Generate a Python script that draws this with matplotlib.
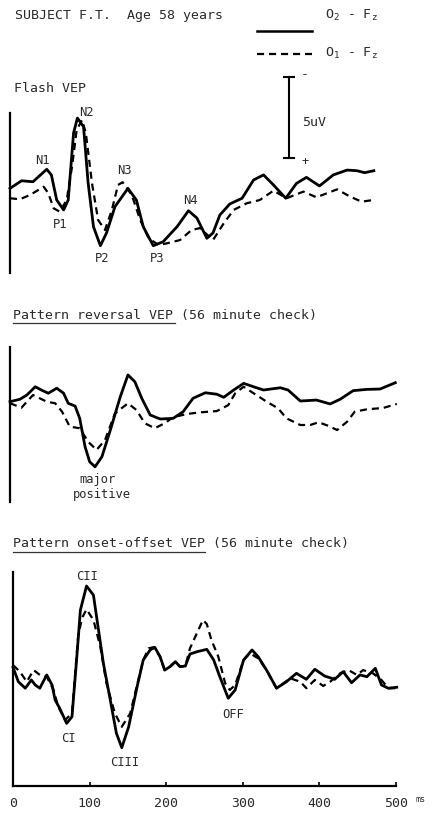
import matplotlib
matplotlib.use("Agg")
import matplotlib.pyplot as plt
from matplotlib.lines import Line2D

# ---------------- data (time in ms, amplitude in uV, negative = up) ----------------
flash_t_o2 = [0, 15, 30, 48, 54, 61, 70, 76, 83, 88, 96, 102, 109, 118, 126, 137, 154, 165, 174, 187,
              200, 218, 233, 244, 257, 265, 274, 287, 303, 318, 331, 344, 360, 374, 387, 404, 422, 440,
              453, 463, 475]
flash_v_o2 = [-0.10, -0.57, -0.51, -1.28, -0.93, 0.62, 1.23, 0.62, -3.52, -4.44, -3.91, -0.43, 2.27, 3.44,
              2.65, 1.03, -0.10, 0.62, 2.27, 3.44, 3.19, 2.27, 1.28, 1.73, 2.98, 2.65, 1.54, 0.86, 0.51,
              -0.62, -0.93, -0.31, 0.51, -0.41, -0.78, -0.25, -0.93, -1.23, -1.19, -1.07, -1.19]
flash_t_o1 = [0, 13, 26, 44, 50, 57, 65, 74, 81, 87, 94, 99, 107, 115, 124, 133, 141, 147, 159, 170,
              181, 194, 205, 222, 237, 248, 265, 279, 292, 309, 326, 344, 361, 383, 400, 427, 444, 459, 474]
flash_v_o1 = [0.51, 0.57, 0.31, -0.20, 0.20, 1.13, 1.34, 0.62, -1.44, -3.70, -4.32, -3.52, -0.43, 1.85,
              2.47, 1.23, -0.31, -0.48, 0.31, 1.85, 2.98, 3.40, 3.29, 3.09, 2.47, 2.35, 3.09, 2.06, 1.23,
              0.82, 0.62, 0.04, 0.51, 0.10, 0.45, -0.04, 0.41, 0.72, 0.62]

rev_t_o2 = [0, 13, 22, 33, 41, 50, 61, 70, 76, 85, 91, 98, 104, 111, 120, 131, 144, 154, 163, 172, 183,
            196, 213, 226, 239, 255, 270, 279, 292, 305, 318, 331, 353, 363, 379, 400, 418, 431, 448, 466,
            483, 503]
rev_v_o2 = [-0.02, -0.17, -0.43, -0.94, -0.74, -0.54, -0.85, -0.54, 0.08, 0.25, 1.01, 2.76, 3.69, 4.00,
            3.38, 1.73, -0.33, -1.67, -1.25, -0.23, 0.80, 1.05, 1.01, 0.60, -0.23, -0.57, -0.48, -0.29,
            -0.74, -1.15, -0.94, -0.74, -0.88, -0.74, -0.06, -0.12, 0.12, -0.17, -0.70, -0.78, -0.80, -1.19]
rev_t_o1 = [0, 15, 30, 48, 59, 68, 78, 91, 102, 113, 124, 137, 154, 165, 176, 189, 202, 213, 231, 248,
            270, 285, 294, 305, 318, 335, 350, 361, 379, 392, 403, 416, 427, 440, 450, 466, 487, 505]
rev_v_o1 = [0.08, 0.35, -0.43, -0.02, 0.08, 0.60, 1.52, 1.62, 2.45, 2.96, 2.35, 0.70, 0.08, 0.49, 1.31,
            1.62, 1.31, 0.94, 0.74, 0.64, 0.56, 0.19, -0.54, -0.94, -0.54, -0.02, 0.39, 1.01, 1.42, 1.42,
            1.25, 1.48, 1.73, 1.22, 0.60, 0.45, 0.37, 0.12]

ons_t_o2 = [0, 7, 16, 24, 29, 35, 44, 51, 55, 61, 70, 77, 83, 88, 96, 105, 111, 118, 127, 135, 142, 151,
            162, 170, 179, 185, 192, 198, 205, 212, 218, 225, 231, 240, 253, 262, 270, 281, 290, 301, 312,
            320, 331, 344, 357, 370, 383, 394, 407, 420, 431, 442, 453, 462, 473, 481, 490, 501]
ons_v_o2 = [0.02, 0.91, 1.31, 0.80, 1.11, 1.31, 0.49, 1.11, 2.04, 2.55, 3.48, 3.07, -0.43, -3.52, -5.00,
            -4.44, -2.49, -0.23, 2.04, 4.09, 4.98, 3.69, 1.22, -0.43, -1.05, -1.22, -0.64, 0.19, -0.02,
            -0.33, -0.02, -0.06, -0.80, -0.94, -1.09, -0.43, 0.60, 1.93, 1.42, -0.43, -1.05, -0.64, 0.19,
            1.31, 0.91, 0.39, 0.76, 0.14, 0.56, 0.76, 0.29, 0.97, 0.49, 0.60, 0.08, 1.11, 1.31, 1.25]
ons_t_o1 = [0, 9, 18, 27, 35, 44, 53, 59, 68, 77, 85, 90, 96, 105, 114, 122, 133, 142, 153, 162, 170,
            177, 183, 192, 198, 205, 212, 218, 225, 231, 240, 248, 253, 259, 268, 277, 283, 290, 301, 309,
            320, 331, 344, 362, 375, 383, 394, 405, 414, 427, 438, 449, 457, 470, 481, 490, 501]
ons_v_o1 = [-0.12, 0.29, 0.91, 0.19, 0.49, 0.60, 1.42, 2.45, 3.27, 2.86, -1.87, -3.01, -3.56, -2.90,
            -1.25, 1.01, 2.86, 3.69, 2.86, 1.11, -0.43, -1.15, -1.22, -0.64, 0.19, -0.02, -0.33, -0.02,
            -0.06, -1.15, -2.08, -2.90, -2.65, -1.67, -0.64, 1.01, 1.42, 1.11, -0.43, -0.85, -0.54, 0.19,
            1.31, 0.70, 0.91, 1.31, 0.80, 1.17, 0.91, 0.39, 0.19, 0.49, 0.19, 0.39, 0.80, 1.31, 1.31]

x_ticks = [0, 100, 200, 300, 400, 500]
x_tick_labels = ["0", "100", "200", "300", "400", "500"]
calib_uv = 5

# ---------------- figure ----------------
W, H = 437, 819
plt.rcParams['font.family'] = ['DejaVu Sans Mono', 'DejaVu Sans']
plt.rcParams['mathtext.fontset'] = 'custom'
plt.rcParams['mathtext.rm'] = 'DejaVu Sans Mono'
plt.rcParams['mathtext.it'] = 'DejaVu Sans Mono'
fig = plt.figure(figsize=(W / 100, H / 100), dpi=100)
fig.patch.set_facecolor('white')

PX_PER_MS = 0.766
PX_PER_UV = 16.2
TXT = '#2a2a2a'
FS = 9.5


def fpos(x, y):
    return x / W, 1 - y / H


def panel(x0, x_right, y_top, y_bot, base):
    ax = fig.add_axes([x0 / W, 1 - y_bot / H, (x_right - x0) / W, (y_bot - y_top) / H])
    ax.set_xlim(0, (x_right - x0) / PX_PER_MS)
    ax.set_ylim((y_bot - base) / PX_PER_UV, (y_top - base) / PX_PER_UV)
    ax.set_facecolor('none')
    for s in ['top', 'right']:
        ax.spines[s].set_visible(False)
    ax.spines['left'].set_linewidth(1.6)
    ax.spines['bottom'].set_visible(False)
    ax.set_xticks([])
    ax.set_yticks([])
    return ax


def traces(ax, t2, v2, t1, v1):
    ax.plot(t2, v2, color='black', lw=2.0, solid_joinstyle='round', clip_on=False)
    ln, = ax.plot(t1, v1, color='black', lw=1.6, dash_joinstyle='round', clip_on=False)
    ln.set_dashes((3.2, 2.2))


# Panel 1: flash
ax1 = panel(10, 396, 113, 273, 190)
traces(ax1, flash_t_o2, flash_v_o2, flash_t_o1, flash_v_o1)

# calibration bar (5 uV) drawn in panel-1 data units
cal_t = (289 - 10) / PX_PER_MS
cal_top = (77 - 190) / PX_PER_UV
ax1.plot([cal_t, cal_t], [cal_top, cal_top + calib_uv], color='black', lw=1.5, clip_on=False)
for yy in (cal_top, cal_top + calib_uv):
    ax1.plot([cal_t - 6.5, cal_t + 6.5], [yy, yy], color='black', lw=1.5, clip_on=False)

# Panel 2: pattern reversal
ax2 = panel(10, 396, 347, 502, 402)
traces(ax2, rev_t_o2, rev_v_o2, rev_t_o1, rev_v_o1)

# Panel 3: onset-offset
ax3 = panel(13, 396, 572, 786, 667)
ax3.set_xlim(0, 500)
traces(ax3, ons_t_o2, ons_v_o2, ons_t_o1, ons_v_o1)
ax3.spines['bottom'].set_visible(True)
ax3.spines['bottom'].set_linewidth(1.6)
ax3.set_xticks(x_ticks)
ax3.set_xticklabels(x_tick_labels, color=TXT, fontsize=FS)
ax3.tick_params(axis='x', direction='in', length=3, width=1.2, pad=8)

# ---------------- texts ----------------
fig.text(*fpos(15, 15), "SUBJECT F.T.  Age 58 years", fontsize=FS, color=TXT, va='center', ha='left')
fig.text(*fpos(325, 15), r"O$_2$ - F$_z$", fontsize=FS, color=TXT, va='center', ha='left')
fig.text(*fpos(325, 53), r"O$_1$ - F$_z$", fontsize=FS, color=TXT, va='center', ha='left')
fig.add_artist(Line2D([257 / W, 312 / W], [1 - 31 / H, 1 - 31 / H], color='black', lw=1.8))
leg_d = Line2D([257 / W, 312 / W], [1 - 54 / H, 1 - 54 / H], color='black', lw=1.6)
leg_d.set_dashes((3.2, 2.2))
fig.add_artist(leg_d)

fig.text(*fpos(305, 75), "-", fontsize=FS, color=TXT, va='center', ha='center')
fig.text(*fpos(305, 162), "+", fontsize=FS - 1, color=TXT, va='center', ha='center')
fig.text(*fpos(302, 122), "5uV", fontsize=FS, color=TXT, va='center', ha='left')

fig.text(*fpos(14, 88), "Flash VEP", fontsize=FS, color=TXT, va='center', ha='left')
fig.text(*fpos(13, 315), "Pattern reversal VEP (56 minute check)", fontsize=FS, color=TXT,
         va='center', ha='left')
fig.add_artist(Line2D([13 / W, 175 / W], [1 - 323 / H, 1 - 323 / H], color='#333333', lw=0.9))
fig.text(*fpos(13, 543), "Pattern onset-offset VEP (56 minute check)", fontsize=FS, color=TXT,
         va='center', ha='left')
fig.add_artist(Line2D([13 / W, 205 / W], [1 - 552 / H, 1 - 552 / H], color='#333333', lw=0.9))

peak_labels = [("N1", 42, 160), ("N2", 86, 113), ("P1", 60, 225), ("N3", 124, 170),
               ("P2", 102, 258), ("P3", 157, 258), ("N4", 190, 200),
               ("major", 97, 480), ("positive", 102, 495),
               ("CII", 87, 577), ("CI", 68, 738), ("CIII", 125, 762), ("OFF", 233, 714)]
for s, x, y in peak_labels:
    fig.text(*fpos(x, y), s, fontsize=FS - 0.8, color=TXT, va='center', ha='center')

fig.text(*fpos(420, 800), "ms", fontsize=6, color=TXT, va='center', ha='center')

fig.savefig("out.png", dpi=100, facecolor='white')
